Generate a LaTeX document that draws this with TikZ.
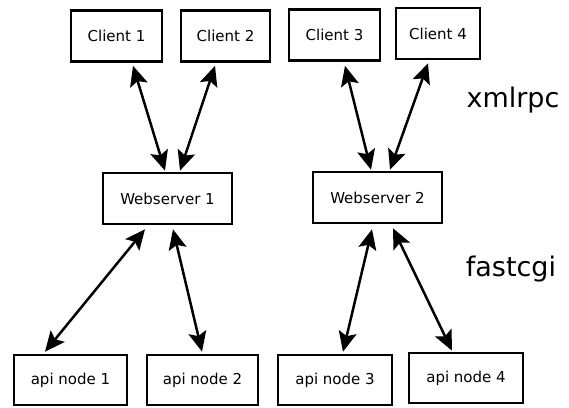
\documentclass[tikz,border=0pt]{standalone}
\usepackage{fontspec}
\setmainfont{DejaVu Sans}
\usetikzlibrary{arrows.meta}
\begin{document}
\begin{tikzpicture}[x=1pt,y=-1pt,
  box/.style={draw,line width=2.6pt,inner sep=0pt,minimum height=51pt,
    font=\fontsize{15}{18}\selectfont},
  link/.style={line width=2.5pt,{Stealth[length=20pt,width=18pt,inset=4pt]}-{Stealth[length=20pt,width=18pt,inset=4pt]}},
  tag/.style={anchor=base,inner sep=0pt,font=\fontsize{27}{31}\selectfont}]
\useasboundingbox (0,0) rectangle (569,407);
% clients
\node[box,minimum width=91pt] (c1) at (116.5,36) {Client 1};
\node[box,minimum width=89pt] (c2) at (225.5,36) {Client 2};
\node[box,minimum width=91pt] (c3) at (334.5,35) {Client 3};
\node[box,minimum width=84pt] (c4) at (438,33.5) {Client 4};
% webservers
\node[box,minimum width=129pt] (w1) at (167.5,198.5) {Webserver 1};
\node[box,minimum width=129pt] (w2) at (377.5,197.5) {Webserver 2};
% api nodes
\node[box,minimum width=113pt,minimum height=50pt] (a1) at (70.5,380) {api node 1};
\node[box,minimum width=111pt,minimum height=50pt] (a2) at (202.5,380) {api node 2};
\node[box,minimum width=114pt,minimum height=50pt] (a3) at (335,380) {api node 3};
\node[box,minimum width=114pt,minimum height=50pt] (a4) at (466,378) {api node 4};
% protocol labels
\node[tag] (xr) at (513,107) {xmlrpc};
\node[tag] (fc) at (511,276) {fastcgi};
% xmlrpc links
\draw[link] ([xshift=16.5pt,yshift=-3pt]c1.south) -- ([xshift=-2.5pt,yshift=1pt]w1.north);
\draw[link] ([xshift=-10.5pt,yshift=-3pt]c2.south) -- ([xshift=12.5pt,yshift=1pt]w1.north);
\draw[link] ([xshift=10.5pt,yshift=-4pt]c3.south) -- ([xshift=-6.5pt,yshift=1pt]w2.north);
\draw[link] ([xshift=-10pt,yshift=-3pt]c4.south) -- ([xshift=12.5pt,yshift=1pt]w2.north);
% fastcgi links
\draw[link] ([xshift=-22.5pt,yshift=-4pt]w1.south) -- ([xshift=-25.5pt,yshift=2pt]a1.north);
\draw[link] ([xshift=5.5pt,yshift=-4pt]w1.south) -- ([xshift=-0.5pt,yshift=2pt]a2.north);
\draw[link] ([xshift=-5.5pt,yshift=-5pt]w2.south) -- ([xshift=8pt,yshift=2pt]a3.north);
\draw[link] ([xshift=15.5pt,yshift=-4pt]w2.south) -- ([xshift=-14pt,yshift=1pt]a4.north);
\end{tikzpicture}
\end{document}
